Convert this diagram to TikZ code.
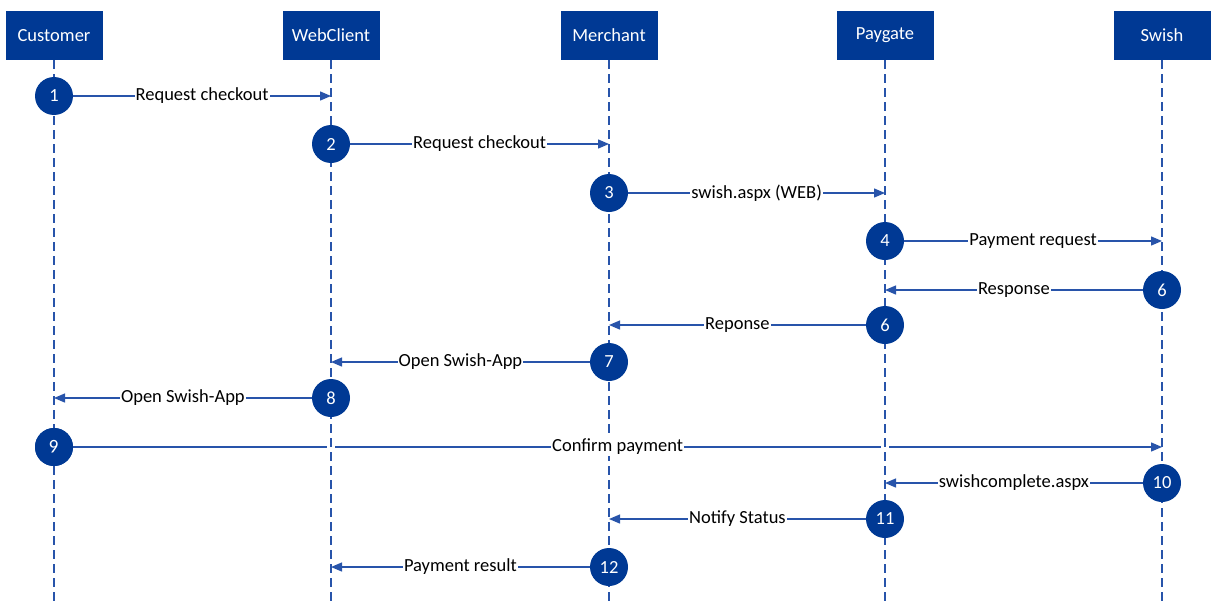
\documentclass[tikz,border=0pt]{standalone}
\usepackage{fontspec}
\setmainfont{Carlito}
\usetikzlibrary{arrows.meta}
\definecolor{boxblue}{RGB}{0,57,148}
\definecolor{lineblue}{RGB}{40,84,170}
\tikzset{
  actor/.style={draw=none, fill=boxblue, text=white, minimum width=97pt, minimum height=49pt, inner sep=0pt, font=\fontsize{18.5}{22}\selectfont},
  stepnum/.style={circle, fill=boxblue, text=white, minimum size=38pt, inner sep=0pt, font=\fontsize{18.5}{22}\selectfont},
  lifeline/.style={draw=lineblue, line width=1.4pt, dash pattern=on 9pt off 5pt},
  msg/.style={draw=lineblue, line width=1.3pt, -{Triangle[length=11pt,width=9pt]}},
  msglabel/.style={fill=white, inner sep=1pt, font=\fontsize{18.5}{22}\selectfont, text=black}
}
\begin{document}
\begin{tikzpicture}[x=1pt,y=-1pt]
\useasboundingbox (0,0) rectangle (1212,605);
% actors
\node[actor] (cust) at (54,35.5) {Customer};
\node[actor] (web) at (331,35.5) {WebClient};
\node[actor] (merch) at (609,35.5) {Merchant};
\node[actor] (pay) at (885,35.5) {Paygate};
\node[actor] (swish) at (1162,35.5) {Swish};
% lifeline ends
\coordinate (custE) at (54,605);
\coordinate (webE) at (331,605);
\coordinate (merchE) at (609,605);
\coordinate (payE) at (885,605);
\coordinate (swishE) at (1162,605);
% lifeline target coordinates
\coordinate (t1) at (331,96);
\coordinate (t2) at (609,144);
\coordinate (t3) at (885,193);
\coordinate (t4) at (1162,241);
\coordinate (t5) at (885,290);
\coordinate (t6) at (609,325);
\coordinate (t7) at (331,362);
\coordinate (t8) at (54,398);
\coordinate (t9) at (1162,447);
\coordinate (t10) at (885,483);
\coordinate (t11) at (609,519);
\coordinate (t12) at (331,567);
% confirm payment arrow first (lifelines on top with gaps)
\node[stepnum] (s9) at (54,447) {\rotatebox{180}{6}};
\draw[msg] (s9.east) -- (t9);
\foreach \xx in {331,885} {
  \fill[white] (\xx-4,443) rectangle (\xx+4,451);
}
% lifelines
\draw[lifeline] (cust.south) -- (custE);
\draw[lifeline] (web.south) -- (webE);
\draw[lifeline] (merch.south) -- (merchE);
\draw[lifeline] (pay.south) -- (payE);
\draw[lifeline] (swish.south) -- (swishE);
\path (s9.east) -- node[msglabel] {Confirm payment} (t9);
% steps
\node[stepnum] (s1) at (54,96) {1};
\node[stepnum] (s2) at (331,144) {2};
\node[stepnum] (s3) at (609,193) {3};
\node[stepnum] (s4) at (885,241) {4};
\node[stepnum] (s5) at (1162,290) {6};
\node[stepnum] (s6) at (885,325) {6};
\node[stepnum] (s7) at (609,362) {7};
\node[stepnum] (s8) at (331,398) {8};
\node[stepnum] (s9b) at (54,447) {\rotatebox{180}{6}};
\node[stepnum] (s10) at (1162,483) {10};
\node[stepnum] (s11) at (885,519) {11};
\node[stepnum] (s12) at (609,567) {12};
% messages
\draw[msg] (s1.east) -- node[msglabel] {Request checkout} (t1);
\draw[msg] (s2.east) -- node[msglabel] {Request checkout} (t2);
\draw[msg] (s3.east) -- node[msglabel] {swish.aspx (WEB)} (t3);
\draw[msg] (s4.east) -- node[msglabel] {Payment request} (t4);
\draw[msg] (s5.west) -- node[msglabel] {Response} (t5);
\draw[msg] (s6.west) -- node[msglabel] {Reponse} (t6);
\draw[msg] (s7.west) -- node[msglabel] {Open Swish-App} (t7);
\draw[msg] (s8.west) -- node[msglabel] {Open Swish-App} (t8);
\draw[msg] (s10.west) -- node[msglabel] {swishcomplete.aspx} (t10);
\draw[msg] (s11.west) -- node[msglabel] {Notify Status} (t11);
\draw[msg] (s12.west) -- node[msglabel] {Payment result} (t12);
\end{tikzpicture}
\end{document}
